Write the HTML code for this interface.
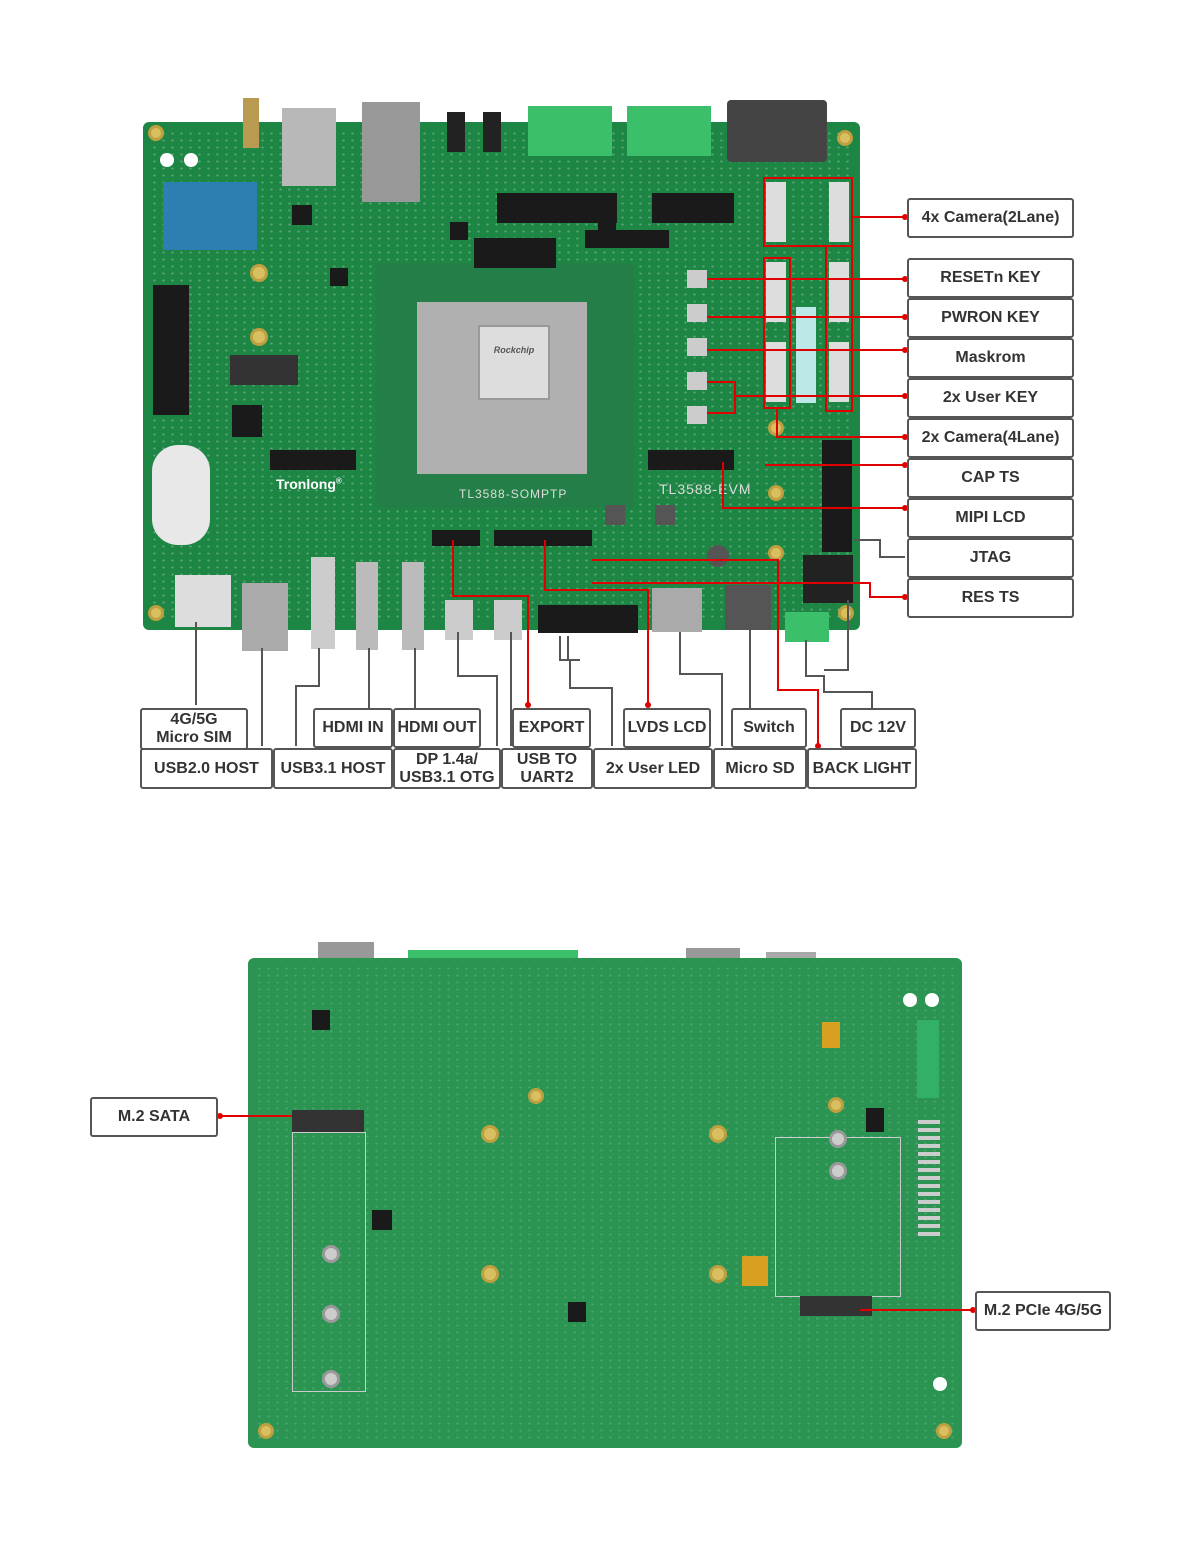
<!DOCTYPE html>
<html><head><meta charset="utf-8"><style>
html,body{margin:0;padding:0;background:#fff;}
body{width:1200px;height:1563px;position:relative;overflow:hidden;font-family:"Liberation Sans",sans-serif;}
.a{position:absolute;}
.box{position:absolute;border:2px solid #555;border-radius:3px;background:#fff;box-sizing:border-box;display:flex;align-items:center;justify-content:center;text-align:center;font-weight:bold;font-size:16px;color:#333;line-height:18px;}
.board{position:absolute;background:#1d8644;border-radius:6px;}
.tex{position:absolute;background-image:radial-gradient(rgba(200,220,200,0.35) 1px,transparent 1.6px);background-size:9px 7px;}
.chip{position:absolute;background:#1a1a1a;}
.hole{position:absolute;border-radius:50%;background:#d8c060;border:3px solid #bfa040;box-sizing:border-box;}
.white{position:absolute;border-radius:50%;background:#fff;}
</style></head><body>

<!-- TOP BOARD -->
<div class="board" style="left:143px;top:122px;width:717px;height:508px;"></div>
<div class="tex" style="left:150px;top:130px;width:700px;height:490px;"></div>
<div class="a" style="left:243px;top:98px;width:16px;height:50px;background:#b89a50;"></div>
<div class="a" style="left:282px;top:108px;width:54px;height:78px;background:#b8b8b8;"></div>
<div class="a" style="left:362px;top:102px;width:58px;height:100px;background:#999;"></div>
<div class="a" style="left:447px;top:112px;width:18px;height:40px;background:#222;"></div>
<div class="a" style="left:483px;top:112px;width:18px;height:40px;background:#222;"></div>
<div class="a" style="left:528px;top:106px;width:84px;height:50px;background:#3cbf6a;"></div>
<div class="a" style="left:627px;top:106px;width:84px;height:50px;background:#3cbf6a;"></div>
<div class="a" style="left:727px;top:100px;width:100px;height:62px;background:#444;border-radius:4px;"></div>
<div class="white" style="left:160px;top:153px;width:14px;height:14px;"></div>
<div class="white" style="left:184px;top:153px;width:14px;height:14px;"></div>
<div class="a" style="left:163px;top:182px;width:94px;height:68px;background:#2c7fb0;"></div>
<div class="a" style="left:153px;top:285px;width:36px;height:130px;background:#1a1a1a;"></div>
<div class="a" style="left:152px;top:445px;width:58px;height:100px;background:#e8e8e8;border-radius:26px;"></div>
<div class="a" style="left:175px;top:575px;width:56px;height:52px;background:#ddd;"></div>
<div class="a" style="left:242px;top:583px;width:46px;height:68px;background:#aaa;"></div>
<div class="a" style="left:311px;top:557px;width:24px;height:92px;background:#ccc;"></div>
<div class="a" style="left:356px;top:562px;width:22px;height:88px;background:#bbb;"></div>
<div class="a" style="left:402px;top:562px;width:22px;height:88px;background:#bbb;"></div>
<div class="a" style="left:445px;top:600px;width:28px;height:40px;background:#ccc;"></div>
<div class="a" style="left:494px;top:600px;width:28px;height:40px;background:#ccc;"></div>
<div class="a" style="left:538px;top:605px;width:100px;height:28px;background:#1a1a1a;"></div>
<div class="a" style="left:652px;top:588px;width:50px;height:44px;background:#aaa;"></div>
<div class="a" style="left:725px;top:585px;width:46px;height:45px;background:#555;"></div>
<div class="a" style="left:785px;top:612px;width:44px;height:30px;background:#3cbf6a;"></div>
<div class="a" style="left:803px;top:555px;width:50px;height:48px;background:#222;"></div>
<div class="a" style="left:376px;top:263px;width:258px;height:245px;background:#237f47;border-radius:4px;"></div>
<div class="a" style="left:417px;top:302px;width:170px;height:172px;background:#b0b0b0;"></div>
<div class="a" style="left:478px;top:325px;width:72px;height:75px;background:#ddd;border:2px solid #999;box-sizing:border-box;font-size:9px;color:#555;font-style:italic;font-weight:bold;padding-top:18px;text-align:center;">Rockchip</div>
<div class="a" style="left:459px;top:487px;color:#ddd;font-size:12px;letter-spacing:1px;">TL3588-SOMPTP</div>
<div class="a" style="left:276px;top:476px;color:#fff;font-weight:bold;font-size:14px;">Tronlong<sup style="font-size:8px">®</sup></div>
<div class="a" style="left:659px;top:481px;color:#ddd;font-size:14px;letter-spacing:1px;">TL3588-EVM</div>
<div class="chip" style="left:497px;top:193px;width:120px;height:30px;"></div>
<div class="chip" style="left:652px;top:193px;width:82px;height:30px;"></div>
<div class="chip" style="left:474px;top:238px;width:82px;height:30px;"></div>
<div class="chip" style="left:585px;top:230px;width:84px;height:18px;"></div>
<div class="chip" style="left:270px;top:450px;width:86px;height:20px;"></div>
<div class="chip" style="left:648px;top:450px;width:86px;height:20px;"></div>
<div class="chip" style="left:432px;top:530px;width:48px;height:16px;"></div>
<div class="chip" style="left:494px;top:530px;width:98px;height:16px;"></div>
<div class="chip" style="left:822px;top:440px;width:30px;height:112px;"></div>
<div class="chip" style="left:230px;top:355px;width:68px;height:30px;background:#333;"></div>
<div class="chip" style="left:232px;top:405px;width:30px;height:32px;"></div>
<div class="chip" style="left:292px;top:205px;width:20px;height:20px;"></div>
<div class="chip" style="left:450px;top:222px;width:18px;height:18px;"></div>
<div class="chip" style="left:598px;top:222px;width:18px;height:18px;"></div>
<div class="chip" style="left:330px;top:268px;width:18px;height:18px;"></div>
<div class="chip" style="left:605px;top:505px;width:20px;height:20px;background:#555;"></div>
<div class="chip" style="left:655px;top:505px;width:20px;height:20px;background:#555;"></div>
<div class="chip" style="left:707px;top:545px;width:22px;height:22px;background:#555;border-radius:50%;"></div>
<div class="a" style="left:766px;top:182px;width:20px;height:60px;background:#ddd;"></div>
<div class="a" style="left:829px;top:182px;width:20px;height:60px;background:#ddd;"></div>
<div class="a" style="left:766px;top:262px;width:20px;height:60px;background:#ddd;"></div>
<div class="a" style="left:829px;top:262px;width:20px;height:60px;background:#ddd;"></div>
<div class="a" style="left:766px;top:342px;width:20px;height:60px;background:#ddd;"></div>
<div class="a" style="left:829px;top:342px;width:20px;height:60px;background:#ddd;"></div>
<div class="a" style="left:796px;top:307px;width:20px;height:96px;background:#bde8e8;"></div>
<div class="hole" style="left:250px;top:264px;width:18px;height:18px;"></div>
<div class="hole" style="left:250px;top:328px;width:18px;height:18px;"></div>
<div class="hole" style="left:768px;top:420px;width:16px;height:16px;"></div>
<div class="hole" style="left:768px;top:485px;width:16px;height:16px;"></div>
<div class="hole" style="left:768px;top:545px;width:16px;height:16px;"></div>
<div class="hole" style="left:148px;top:125px;width:16px;height:16px;"></div>
<div class="hole" style="left:837px;top:130px;width:16px;height:16px;"></div>
<div class="hole" style="left:148px;top:605px;width:16px;height:16px;"></div>
<div class="hole" style="left:838px;top:605px;width:16px;height:16px;"></div>
<div class="a" style="left:687px;top:270px;width:20px;height:160px;background:repeating-linear-gradient(#ccc 0 18px,transparent 18px 34px);"></div>

<!-- BOTTOM BOARD -->
<div class="a" style="left:318px;top:942px;width:56px;height:20px;background:#999;"></div>
<div class="a" style="left:408px;top:950px;width:170px;height:12px;background:#3cbf6a;"></div>
<div class="a" style="left:686px;top:948px;width:54px;height:14px;background:#999;"></div>
<div class="a" style="left:766px;top:952px;width:50px;height:10px;background:#aaa;"></div>
<div class="board" style="left:248px;top:958px;width:714px;height:490px;background:#2b9452;"></div>
<div class="tex" style="left:255px;top:965px;width:700px;height:476px;opacity:0.6;"></div>
<div class="white" style="left:903px;top:993px;width:14px;height:14px;"></div>
<div class="white" style="left:925px;top:993px;width:14px;height:14px;"></div>
<div class="white" style="left:933px;top:1377px;width:14px;height:14px;"></div>
<div class="a" style="left:917px;top:1020px;width:22px;height:78px;background:#32b066;"></div>
<div class="a" style="left:292px;top:1110px;width:72px;height:22px;background:#333;"></div>
<div class="a" style="left:292px;top:1132px;width:74px;height:260px;border:1px solid #ccc;box-sizing:border-box;"></div>
<div class="a" style="left:775px;top:1137px;width:126px;height:160px;border:1px solid #ccc;box-sizing:border-box;"></div>
<div class="a" style="left:800px;top:1296px;width:72px;height:20px;background:#333;"></div>
<div class="a" style="left:918px;top:1120px;width:22px;height:120px;background:repeating-linear-gradient(#ccc 0 4px,transparent 4px 8px);"></div>
<div class="hole" style="left:322px;top:1245px;width:18px;height:18px;background:#ccc;border-color:#999;"></div>
<div class="hole" style="left:322px;top:1305px;width:18px;height:18px;background:#ccc;border-color:#999;"></div>
<div class="hole" style="left:322px;top:1370px;width:18px;height:18px;background:#ccc;border-color:#999;"></div>
<div class="hole" style="left:829px;top:1130px;width:18px;height:18px;background:#ccc;border-color:#999;"></div>
<div class="hole" style="left:829px;top:1162px;width:18px;height:18px;background:#ccc;border-color:#999;"></div>
<div class="hole" style="left:481px;top:1125px;width:18px;height:18px;"></div>
<div class="hole" style="left:481px;top:1265px;width:18px;height:18px;"></div>
<div class="hole" style="left:709px;top:1125px;width:18px;height:18px;"></div>
<div class="hole" style="left:709px;top:1265px;width:18px;height:18px;"></div>
<div class="hole" style="left:528px;top:1088px;width:16px;height:16px;"></div>
<div class="hole" style="left:828px;top:1097px;width:16px;height:16px;"></div>
<div class="hole" style="left:258px;top:1423px;width:16px;height:16px;"></div>
<div class="hole" style="left:936px;top:1423px;width:16px;height:16px;"></div>
<div class="chip" style="left:568px;top:1302px;width:18px;height:20px;"></div>
<div class="chip" style="left:372px;top:1210px;width:20px;height:20px;"></div>
<div class="chip" style="left:312px;top:1010px;width:18px;height:20px;"></div>
<div class="chip" style="left:866px;top:1108px;width:18px;height:24px;"></div>
<div class="a" style="left:822px;top:1022px;width:18px;height:26px;background:#d8a020;"></div>
<div class="a" style="left:742px;top:1256px;width:26px;height:30px;background:#d8a020;"></div>

<svg class="a" style="left:0;top:0" width="1200" height="1563">
<g fill="none" stroke-width="2">
<g stroke="#e00000">
<rect x="764" y="178" width="88" height="68" /><rect x="764" y="258" width="26" height="150"/><rect x="826" y="246" width="26" height="165"/>
<path d="M852 217H905M707 279H905M707 317H905M707 350H905M707 382H735V413H707M735 396H905M777 408V437H905M765 465H905M723 462V508H905M592 583H870V597H905"/>
<path d="M453 540V596H528V705M545 540V590H648V705M592 560H778V690H818V746"/>
<path d="M220 1116H292M860 1310H973"/>
</g>
<g stroke="#555">
<path d="M854 540H880V557H905M196 622V705M262 648V746M319 648V686H296V746M369 648V708M415 648V708M458 632V676H497V746M511 632V746M568 636V660M560 636V660H580M570 660V688H612V746M680 632V674H722V746M750 630V708M806 640V676H824V692H872V708M848 600V670H824"/>
</g>
</g>
<g fill="#e00000"><circle cx="905" cy="217" r="3"/><circle cx="905" cy="279" r="3"/><circle cx="905" cy="317" r="3"/><circle cx="905" cy="350" r="3"/><circle cx="905" cy="396" r="3"/><circle cx="905" cy="437" r="3"/><circle cx="905" cy="465" r="3"/><circle cx="905" cy="508" r="3"/><circle cx="905" cy="597" r="3"/><circle cx="528" cy="705" r="3"/><circle cx="648" cy="705" r="3"/><circle cx="818" cy="746" r="3"/><circle cx="220" cy="1116" r="3"/><circle cx="973" cy="1310" r="3"/></g>
</svg>

<div class="box" style="left:907px;top:198px;width:167px;height:40px;">4x Camera(2Lane)</div>
<div class="box" style="left:907px;top:258px;width:167px;height:40px;">RESETn KEY</div>
<div class="box" style="left:907px;top:298px;width:167px;height:40px;">PWRON KEY</div>
<div class="box" style="left:907px;top:338px;width:167px;height:40px;">Maskrom</div>
<div class="box" style="left:907px;top:378px;width:167px;height:40px;">2x User KEY</div>
<div class="box" style="left:907px;top:418px;width:167px;height:40px;">2x Camera(4Lane)</div>
<div class="box" style="left:907px;top:458px;width:167px;height:40px;">CAP TS</div>
<div class="box" style="left:907px;top:498px;width:167px;height:40px;">MIPI LCD</div>
<div class="box" style="left:907px;top:538px;width:167px;height:40px;">JTAG</div>
<div class="box" style="left:907px;top:578px;width:167px;height:40px;">RES TS</div>

<div class="box" style="left:140px;top:708px;width:108px;height:42px;">4G/5G<br>Micro SIM</div>
<div class="box" style="left:313px;top:708px;width:80px;height:40px;">HDMI IN</div>
<div class="box" style="left:393px;top:708px;width:88px;height:40px;">HDMI OUT</div>
<div class="box" style="left:512px;top:708px;width:79px;height:40px;">EXPORT</div>
<div class="box" style="left:623px;top:708px;width:88px;height:40px;">LVDS LCD</div>
<div class="box" style="left:731px;top:708px;width:76px;height:40px;">Switch</div>
<div class="box" style="left:840px;top:708px;width:76px;height:40px;">DC 12V</div>
<div class="box" style="left:140px;top:748px;width:133px;height:41px;">USB2.0 HOST</div>
<div class="box" style="left:273px;top:748px;width:120px;height:41px;">USB3.1 HOST</div>
<div class="box" style="left:393px;top:748px;width:108px;height:41px;">DP 1.4a/<br>USB3.1 OTG</div>
<div class="box" style="left:501px;top:748px;width:92px;height:41px;">USB TO<br>UART2</div>
<div class="box" style="left:593px;top:748px;width:120px;height:41px;">2x User LED</div>
<div class="box" style="left:713px;top:748px;width:94px;height:41px;">Micro SD</div>
<div class="box" style="left:807px;top:748px;width:110px;height:41px;">BACK LIGHT</div>

<div class="box" style="left:90px;top:1097px;width:128px;height:40px;">M.2 SATA</div>
<div class="box" style="left:975px;top:1291px;width:136px;height:40px;">M.2 PCIe 4G/5G</div>
</body></html>
